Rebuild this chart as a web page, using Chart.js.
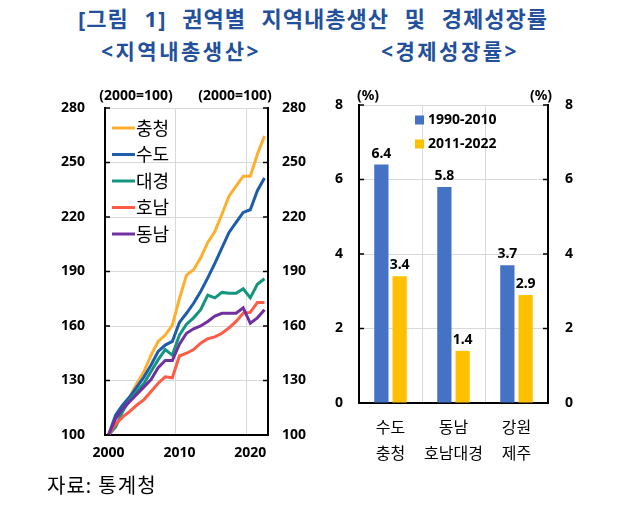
<!DOCTYPE html>
<html>
<head>
<meta charset="utf-8">
<script src="https://cdn.jsdelivr.net/npm/chart.js@4.4.1/dist/chart.umd.min.js"></script>
<style>
  html, body { margin: 0; padding: 0; background: #fff; }
  body { width: 626px; height: 507px; position: relative; overflow: hidden;
         font-family: 'Noto Sans', 'Noto Sans CJK KR', sans-serif; }
  .t { position: absolute; white-space: nowrap; line-height: 1; }
  #title { left: 0; width: 626px; top: 7px; text-align: center; font-size: 22px; font-weight: bold;
           color: #23509C; letter-spacing: 1px; word-spacing: 9px; }
  .sub { top: 41px; font-size: 21px; font-weight: bold; color: #23509C; letter-spacing: 2.5px;
         transform: translateX(-50%); }
  .unit { top: 88px; font-size: 14px; font-weight: bold; color: #000; transform: translateX(-50%); }
  #src { left: 47px; top: 476px; font-size: 20px; color: #000; letter-spacing: 1px; }
  canvas { position: absolute; top: 0; }
  #c1 { left: 0; }
  #c2 { left: 310px; }
</style>
</head>
<body>
<div class="t" id="title">[그림 1] 권역별 지역내총생산 및 경제성장률</div>
<div class="t sub" style="left:181px">&lt;지역내총생산&gt;</div>
<div class="t sub" style="left:450px">&lt;경제성장률&gt;</div>
<canvas id="c1" width="310" height="507"></canvas>
<canvas id="c2" width="316" height="507"></canvas>
<div class="t unit" style="left:136px">(2000=100)</div>
<div class="t unit" style="left:235px">(2000=100)</div>
<div class="t unit" style="left:368px">(%)</div>
<div class="t unit" style="left:541px">(%)</div>
<div class="t" id="src">자료: 통계청</div>
<script>
  // ── Data ───────────────────────────────────────────
  const years = ['2000', '2001', '2002', '2003', '2004', '2005', '2006', '2007', '2008', '2009', '2010',
    '2011', '2012', '2013', '2014', '2015', '2016', '2017', '2018', '2019', '2020', '2021', '2022'];
  const chungcheong = [100, 110, 114, 121, 128.5, 135, 144, 151.5, 155, 160.5, 175, 188, 191, 197.5, 206, 212, 221.5, 231.5, 237, 242.5, 242.5, 254.5, 264.5];
  const sudo = [100, 111, 116.5, 121, 126.5, 132, 138.5, 146, 149.5, 151.5, 162, 167, 172.5, 179, 186.5, 194.5, 203, 211.5, 217, 222.5, 224, 234.5, 241.5];
  const daegyeong = [100, 104.5, 113, 119.5, 124, 128.5, 135, 141.5, 147, 144, 155, 161, 164.5, 169, 177, 175.5, 178.5, 178, 178, 180.5, 175.5, 183, 186];
  const honam = [100, 106, 110, 113, 116.5, 119.5, 124, 128.5, 132, 131.5, 143.5, 145, 147, 150.5, 153, 154, 156, 159, 162.5, 167, 167.5, 173, 173];
  const dongnam = [100, 109, 114.5, 118.5, 122.5, 126.5, 130.5, 137, 141, 141, 150, 156, 158.5, 160, 162.5, 165.5, 167, 167, 167, 170, 161.5, 164.5, 169];
  const lineNames = ['충청', '수도', '대경', '호남', '동남'];
  const lineColors = ['#FFAF2E', '#1D5DAB', '#13967C', '#FF5B47', '#7030A0'];

  const growthCats = [['수도', '충청'], ['동남', '호남대경'], ['강원', '제주']];
  const growthNames = ['1990-2010', '2011-2022'];
  const growth9010 = [6.4, 5.8, 3.7];
  const growth1122 = [3.4, 1.4, 2.9];

  Chart.defaults.font.family = "'Noto Sans', 'Noto Sans CJK KR', sans-serif";
  Chart.defaults.color = '#000';

  const GRID = '#D9D9D9';
  const numFont = { size: 14, weight: 'bold' };

  // small tick marks drawn inward on both value axes
  const innerTicks = {
    id: 'innerTicks',
    afterDraw(chart) {
      const ctx = chart.ctx, a = chart.chartArea;
      ctx.save();
      ctx.strokeStyle = '#000';
      ctx.lineWidth = 1.5;
      ['y', 'y2'].forEach(function (id) {
        const s = chart.scales[id];
        const x0 = id === 'y' ? a.left : a.right;
        const dir = id === 'y' ? 1 : -1;
        s.ticks.forEach(function (t) {
          const y = s.getPixelForValue(t.value);
          ctx.beginPath();
          ctx.moveTo(x0, y);
          ctx.lineTo(x0 + dir * 5, y);
          ctx.stroke();
        });
      });
      ctx.restore();
    }
  };

  const lineLegend = {
    id: 'lineLegend',
    afterDraw(chart) {
      const ctx = chart.ctx, a = chart.chartArea;
      ctx.save();
      ctx.font = "18px 'Noto Sans CJK KR'";
      ctx.textBaseline = 'middle';
      chart.data.datasets.forEach(function (ds, i) {
        const y = a.top + 20 + i * 26.5;
        ctx.strokeStyle = ds.borderColor;
        ctx.lineWidth = 3;
        ctx.beginPath();
        ctx.moveTo(a.left + 7, y);
        ctx.lineTo(a.left + 30, y);
        ctx.stroke();
        ctx.fillStyle = '#000';
        ctx.fillText(ds.label, a.left + 31, y);
      });
      ctx.restore();
    }
  };

  const barLegend = {
    id: 'barLegend',
    afterDraw(chart) {
      const ctx = chart.ctx, a = chart.chartArea;
      ctx.save();
      ctx.font = "bold 14px 'Noto Sans'";
      ctx.textBaseline = 'middle';
      chart.data.datasets.forEach(function (ds, i) {
        const y = a.top + 15 + i * 24;
        ctx.fillStyle = ds.backgroundColor;
        ctx.fillRect(a.left + 56, y - 4.5, 9, 9);
        ctx.fillStyle = '#000';
        ctx.fillText(ds.label, a.left + 69, y);
      });
      ctx.restore();
    }
  };

  const barValues = {
    id: 'barValues',
    afterDatasetsDraw(chart) {
      const ctx = chart.ctx;
      ctx.save();
      ctx.font = "bold 14px 'Noto Sans'";
      ctx.fillStyle = '#000';
      ctx.textAlign = 'center';
      ctx.textBaseline = 'bottom';
      chart.data.datasets.forEach(function (ds, i) {
        chart.getDatasetMeta(i).data.forEach(function (bar, j) {
          ctx.fillText(ds.data[j].toFixed(1), bar.x, bar.y - 4);
        });
      });
      ctx.restore();
    }
  };

  function valueAxis(pos, min, max, step, width, pad, showGrid) {
    return {
      position: pos, min: min, max: max,
      ticks: { stepSize: step, font: numFont, color: '#000', padding: pad },
      grid: { color: showGrid ? GRID : 'transparent', drawTicks: false },
      border: { color: '#000', width: 2 },
      afterFit: function (s) { s.width = width; }
    };
  }

  // ── Line chart ────────────────────────────────────
  const lineSeries = [chungcheong, sudo, daegyeong, honam, dongnam];
  new Chart(document.getElementById('c1'), {
    type: 'line',
    data: {
      labels: years,
      datasets: lineSeries.map(function (d, i) {
        return {
          label: lineNames[i], data: d, borderColor: lineColors[i], backgroundColor: lineColors[i],
          borderWidth: 3, pointRadius: 0, tension: 0, fill: false, order: lineSeries.length - i
        };
      })
    },
    options: {
      responsive: false, animation: false,
      layout: { padding: { top: 108, bottom: 42, left: 0, right: 0 } },
      plugins: { legend: { display: false }, tooltip: { enabled: false } },
      scales: {
        x: {
          offset: true,
          grid: {
            offset: true, drawTicks: false,
            color: function (c) { return (c.index % 10 === 0 && c.index > 0) ? GRID : 'transparent'; }
          },
          border: { color: '#000', width: 2 },
          ticks: {
            autoSkip: false, maxRotation: 0, font: numFont, color: '#000', padding: 10,
            callback: function (v, i) { return i % 10 === 0 ? years[i] : ''; }
          },
          afterFit: function (s) { s.height = 30; }
        },
        y: valueAxis('left', 100, 280, 30, 105, 20, true),
        y2: valueAxis('right', 100, 280, 30, 42, 14, false)
      }
    },
    plugins: [innerTicks, lineLegend]
  });

  // ── Bar chart ─────────────────────────────────────
  new Chart(document.getElementById('c2'), {
    type: 'bar',
    data: {
      labels: growthCats,
      datasets: [
        { label: growthNames[0], data: growth9010, backgroundColor: '#4472C4', categoryPercentage: 0.58, barPercentage: 0.78 },
        { label: growthNames[1], data: growth1122, backgroundColor: '#FFC000', categoryPercentage: 0.58, barPercentage: 0.78 }
      ]
    },
    options: {
      responsive: false, animation: false,
      layout: { padding: { top: 105, bottom: 34, left: 0, right: 0 } },
      plugins: { legend: { display: false }, tooltip: { enabled: false } },
      scales: {
        x: {
          grid: { color: GRID, drawTicks: false, offset: true },
          border: { color: '#000', width: 2 },
          ticks: { autoSkip: false, maxRotation: 0, minRotation: 0, font: { size: 16, lineHeight: 1.65 }, color: '#000', padding: 12 },
          afterFit: function (s) { s.height = 70; }
        },
        y: valueAxis('left', 0, 8, 2, 49, 16, true),
        y2: valueAxis('right', 0, 8, 2, 78, 17, false)
      }
    },
    plugins: [innerTicks, barValues, barLegend]
  });
</script>
</body>
</html>
